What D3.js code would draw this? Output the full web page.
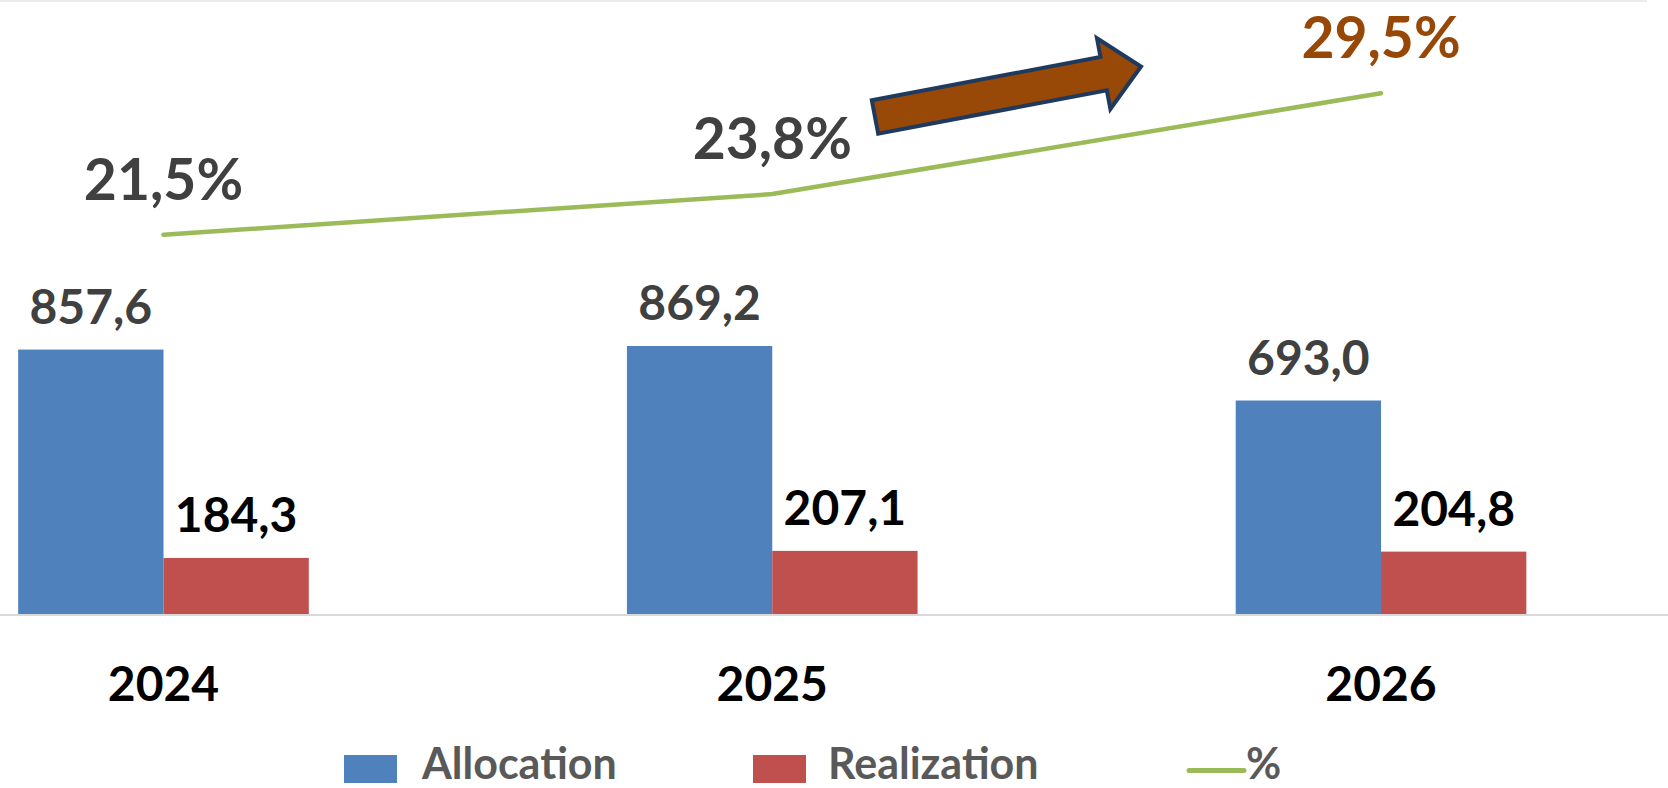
<!DOCTYPE html>
<html>
<head>
<meta charset="utf-8">
<script src="https://cdn.jsdelivr.net/npm/d3@7"></script>
<style>
  html, body { margin: 0; padding: 0; background: #ffffff; }
  svg { display: block; }
  text { font-family: Lato, "Open Sans", "Noto Sans", sans-serif; font-weight: 700; }
</style>
</head>
<body>
<svg id="chart" width="1668" height="788"></svg>
<script>
// ---- data ----
const years = ["2024", "2025", "2026"];
const allocation = [857.6, 869.2, 693.0];
const realization = [184.3, 207.1, 204.8];
const share = [21.5, 23.8, 29.5];
const seriesNames = ["Allocation", "Realization", "%"];

// number formatting with decimal comma
const fmt1 = v => v.toFixed(1).replace(".", ",");

const W = 1668, H = 788;
const svg = d3.select("#chart");

// ---- scales ----
const baseY = 615;
const topY = -4;
const x = d3.scaleBand()
  .domain(years)
  .range([-140.9, 1685.4])
  .paddingInner(0.5226)
  .paddingOuter(0.2613);
const xs = d3.scaleBand()
  .domain(["Allocation", "Realization"])
  .range([0, x.bandwidth()]);
const y = d3.scaleLinear().domain([0, 2000]).range([baseY, topY]);
const y2 = d3.scaleLinear().domain([0, 35]).range([baseY, topY]);

const colors = { Allocation: "#4F81BD", Realization: "#C0504D", line: "#9BBB59" };

// faint frame edge along the top
svg.append("rect").attr("x", 0).attr("y", 0).attr("width", 1647).attr("height", 2)
  .attr("fill", "#ececec");

// ---- bars ----
const rows = years.map((yr, i) => ({ year: yr, Allocation: allocation[i], Realization: realization[i], pct: share[i] }));

const groups = svg.append("g").selectAll("g").data(rows).join("g")
  .attr("transform", d => `translate(${x(d.year)},0)`);

groups.selectAll("rect").data(d => ["Allocation", "Realization"].map(k => ({ key: k, value: d[k] })))
  .join("rect")
  .attr("x", d => xs(d.key))
  .attr("y", d => y(d.value))
  .attr("width", xs.bandwidth())
  .attr("height", d => y(0) - y(d.value))
  .attr("fill", d => colors[d.key]);

// bar value labels
groups.selectAll("text.val").data(d => ["Allocation", "Realization"].map(k => ({ key: k, value: d[k] })))
  .join("text")
  .attr("class", "val")
  .attr("x", d => xs(d.key) + xs.bandwidth() / 2)
  .attr("y", d => y(d.value) - 25.5)
  .attr("text-anchor", "middle")
  .attr("font-size", 48)
  .attr("fill", d => d.key === "Allocation" ? "#404040" : "#000000")
  .text(d => fmt1(d.value));

// ---- category axis ----
const xAxis = svg.append("g").attr("transform", `translate(0,${baseY})`)
  .call(d3.axisBottom(x).tickSize(0).tickPadding(0));
xAxis.select(".domain").remove();
svg.append("line").attr("x1", 0).attr("x2", W).attr("y1", baseY).attr("y2", baseY)
  .attr("stroke", "#d9d9d9").attr("stroke-width", 2);
xAxis.selectAll(".tick text")
  .attr("y", 0)
  .attr("dy", 0)
  .attr("transform", "translate(0,86)")
  .attr("font-size", 48)
  .attr("font-family", 'Lato, "Open Sans", sans-serif')
  .attr("font-weight", 700)
  .attr("fill", "#000000");

// ---- percentage line ----
const cx = d => x(d.year) + x.bandwidth() / 2;
const line = d3.line().x(d => cx(d)).y(d => y2(d.pct));
svg.append("path").datum(rows)
  .attr("d", line)
  .attr("fill", "none")
  .attr("stroke", colors.line)
  .attr("stroke-width", 4.5)
  .attr("stroke-linecap", "round")
  .attr("stroke-linejoin", "round");

svg.append("g").selectAll("text").data(rows).join("text")
  .attr("x", d => cx(d))
  .attr("y", d => y2(d.pct) - 35)
  .attr("text-anchor", "middle")
  .attr("font-size", 57)
  .attr("fill", (d, i) => i === rows.length - 1 ? "#974706" : "#404040")
  .text(d => fmt1(d.pct) + "%");

// ---- trend arrow ----
const arrow = { tail: [875, 117], tip: [1141, 66.5], half: 17, headHalf: 36, headLen: 38 };
const ang = Math.atan2(arrow.tip[1] - arrow.tail[1], arrow.tip[0] - arrow.tail[0]);
const L = Math.hypot(arrow.tip[0] - arrow.tail[0], arrow.tip[1] - arrow.tail[1]);
const local = [
  [0, -arrow.half], [L - arrow.headLen, -arrow.half], [L - arrow.headLen, -arrow.headHalf],
  [L, 0], [L - arrow.headLen, arrow.headHalf], [L - arrow.headLen, arrow.half], [0, arrow.half]
];
svg.append("path")
  .attr("d", "M" + local.map(p => p.join(",")).join("L") + "Z")
  .attr("transform", `translate(${arrow.tail[0]},${arrow.tail[1]}) rotate(${ang * 180 / Math.PI})`)
  .attr("fill", "#984807")
  .attr("stroke", "#1F3A5F")
  .attr("stroke-width", 4)
  .attr("stroke-linejoin", "miter");

// ---- legend ----
const legend = svg.append("g");
const legendItems = [
  { name: seriesNames[0], kind: "box", color: colors.Allocation, x: 344, tx: 422 },
  { name: seriesNames[1], kind: "box", color: colors.Realization, x: 753, tx: 828 },
  { name: seriesNames[2], kind: "line", color: colors.line, x: 1189, tx: 1246 }
];
legendItems.forEach(it => {
  if (it.kind === "box") {
    legend.append("rect").attr("x", it.x).attr("y", 755).attr("width", 53).attr("height", 28)
      .attr("fill", it.color);
  } else {
    legend.append("line").attr("x1", it.x).attr("x2", it.x + 55).attr("y1", 770.5).attr("y2", 770.5)
      .attr("stroke", it.color).attr("stroke-width", 5).attr("stroke-linecap", "round");
  }
  legend.append("text").attr("x", it.tx).attr("y", 779)
    .attr("font-size", 43).attr("fill", "#595959").text(it.name);
});
</script>
</body>
</html>
